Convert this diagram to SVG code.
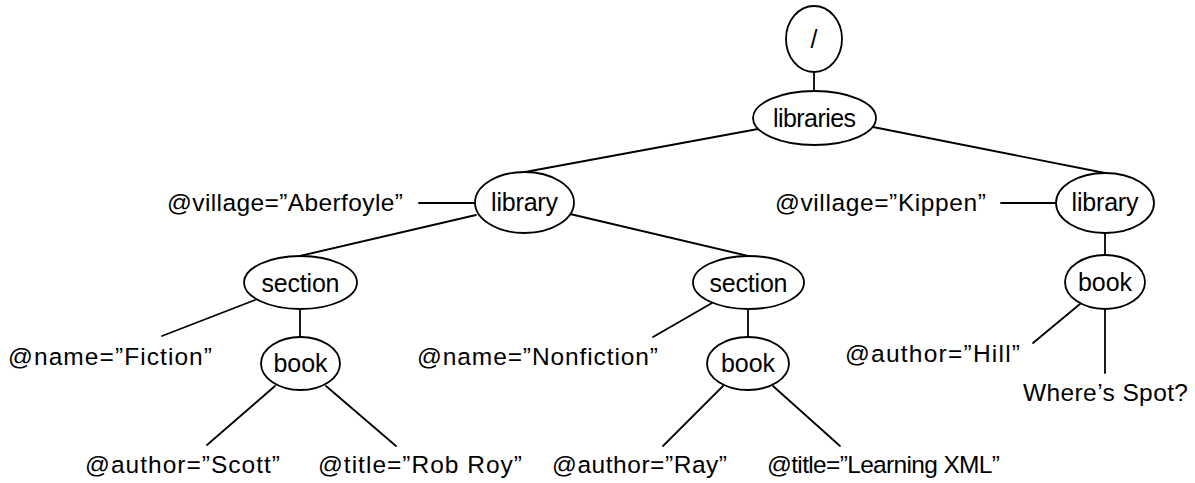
<svg xmlns="http://www.w3.org/2000/svg" width="1195" height="483" viewBox="0 0 1195 483">
<style>
.n{fill:#fff;stroke:#000;stroke-width:1.8}
.e line{stroke:#000;stroke-width:1.8;stroke-linecap:round}
text{font-family:"Liberation Sans",Arial,sans-serif;font-size:24.5px;fill:#000}
.c{text-anchor:middle;font-size:25px}
</style>
<rect width="1195" height="483" fill="#fff"/>
<g id="connectors" class="e">
<line x1="814" y1="72" x2="814" y2="91"/>
<line x1="758" y1="129" x2="525" y2="172"/>
<line x1="873" y1="127" x2="1105" y2="173"/>
<line x1="419" y1="203" x2="475" y2="203"/>
<line x1="476" y1="215" x2="300" y2="256"/>
<line x1="570" y1="214" x2="748" y2="256"/>
<line x1="1001" y1="203" x2="1056" y2="203"/>
<line x1="1105" y1="233" x2="1105" y2="255"/>
<line x1="255" y1="300" x2="162" y2="336"/>
<line x1="300" y1="309" x2="300" y2="337"/>
<line x1="275" y1="386" x2="207" y2="445"/>
<line x1="326" y1="386" x2="396" y2="446"/>
<line x1="712" y1="303" x2="653" y2="337"/>
<line x1="748" y1="309" x2="748" y2="337"/>
<line x1="723" y1="386" x2="663" y2="446"/>
<line x1="773" y1="386" x2="840" y2="446"/>
<line x1="1080" y1="304" x2="1033" y2="343"/>
<line x1="1105" y1="309" x2="1105" y2="373"/>
</g>
<g id="root"><ellipse class="n" cx="814" cy="39" rx="28" ry="33"/><text class="c" x="814" y="48">/</text></g>
<g id="libraries"><ellipse class="n" cx="814.5" cy="118" rx="61.5" ry="27"/><text class="c" x="814.5" y="127" textLength="83">libraries</text></g>
<g id="library1"><ellipse class="n" cx="524.5" cy="202.5" rx="49.5" ry="30.5"/><text class="c" x="524.5" y="211" textLength="67">library</text></g>
<g id="library2"><ellipse class="n" cx="1105" cy="203" rx="49" ry="30"/><text class="c" x="1105" y="211" textLength="67">library</text></g>
<g id="village1"><text x="167" y="211" textLength="236">@village=”Aberfoyle”</text></g>
<g id="village2"><text x="775" y="211" textLength="211">@village=”Kippen”</text></g>
<g id="section1"><ellipse class="n" cx="300.5" cy="282.5" rx="56.5" ry="26.5"/><text class="c" x="300.5" y="292" textLength="78">section</text></g>
<g id="section2"><ellipse class="n" cx="748.5" cy="282.5" rx="55.5" ry="26.5"/><text class="c" x="748.5" y="292" textLength="78">section</text></g>
<g id="book3"><ellipse class="n" cx="1105" cy="282" rx="40" ry="27"/><text class="c" x="1105" y="291" textLength="54">book</text></g>
<g id="name1"><text x="8" y="365" textLength="204">@name=”Fiction”</text></g>
<g id="name2"><text x="417" y="365" textLength="241">@name=”Nonfiction”</text></g>
<g id="book1"><ellipse class="n" cx="300.5" cy="363.5" rx="39.5" ry="26.5"/><text class="c" x="300.5" y="372" textLength="54">book</text></g>
<g id="book2"><ellipse class="n" cx="748" cy="363.5" rx="41" ry="26.5"/><text class="c" x="748" y="372" textLength="54">book</text></g>
<g id="author3"><text x="845" y="362" textLength="175">@author=”Hill”</text></g>
<g id="title3"><text x="1023" y="401" textLength="165">Where’s Spot?</text></g>
<g id="author1"><text x="85" y="473" textLength="195">@author=”Scott”</text></g>
<g id="title1"><text x="318" y="473" textLength="204">@title=”Rob Roy”</text></g>
<g id="author2"><text x="552" y="473" textLength="175">@author=”Ray”</text></g>
<g id="title2"><text x="767" y="473" textLength="233">@title=”Learning XML”</text></g>
</svg>
